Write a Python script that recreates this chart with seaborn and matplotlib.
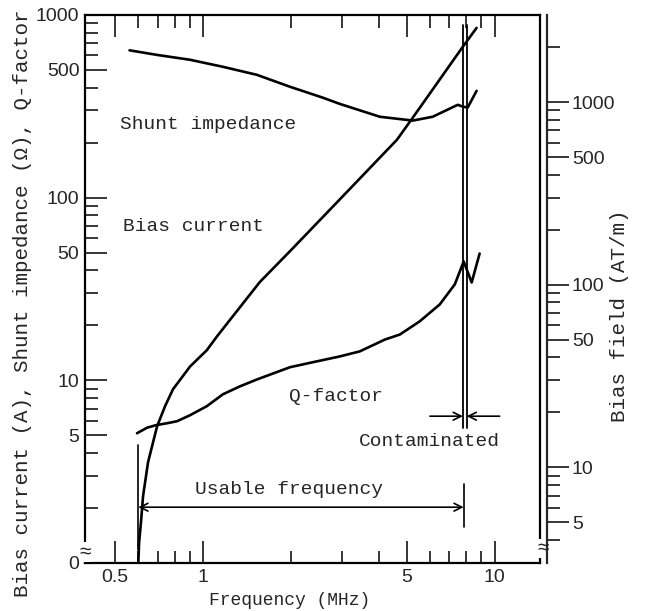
import numpy as np
import pandas as pd
import matplotlib
matplotlib.use('Agg')
import matplotlib.pyplot as plt
import matplotlib.transforms as mtrans
import seaborn as sns

# === Dữ liệu (MHz, giá trị trục trái) ===
shunt_freq = [0.56, 0.696, 0.903, 1.17, 1.53, 1.99, 2.58, 2.94, 4.04, 5.24, 6.13, 7.47, 7.77, 8.08, 8.67]
shunt_val = [640, 604, 568, 520, 470, 404, 352, 326, 277, 264, 277, 322, 315, 311, 384]

bias_freq = [0.60, 0.604, 0.613, 0.623, 0.648, 0.696, 0.741, 0.789, 0.903, 1.03, 1.117,
             1.566, 1.99, 2.94, 4.62, 5.24, 7.77, 8.67]
bias_val = [1.0, 1.30, 1.68, 2.32, 3.56, 5.6, 7.21, 8.93, 11.9, 14.6, 17.4,
            34.5, 51.0, 97.5, 207, 274, 668, 849]

q_freq = [0.594, 0.643, 0.69, 0.753, 0.815, 0.903, 1.03, 1.17, 1.34, 1.53, 1.74, 1.99,
          2.46, 2.94, 3.45, 4.20, 4.73, 5.53, 6.48, 7.30, 7.83, 8.34, 8.88]
q_val = [5.13, 5.50, 5.68, 5.82, 5.97, 6.44, 7.21, 8.38, 9.27, 10.1, 10.9, 11.8,
         12.7, 13.5, 14.4, 16.7, 17.8, 21.0, 26.0, 33.5, 44.7, 34.3, 49.4]

x_major = [0.5, 1, 5, 10]
x_major_labels = ['0.5', '1', '5', '10']
x_minor = [0.6, 0.7, 0.8, 0.9, 2, 3, 4, 6, 7, 8, 9]
y_major = [1, 5, 10, 50, 100, 500, 1000]
y_major_labels = ['0', '5', '10', '50', '100', '500', '1000']
y_minor = [2, 3, 4, 6, 7, 8, 9, 20, 30, 40, 60, 70, 80, 90, 200, 300, 400, 600, 700, 800, 900]
field_major = [5, 10, 50, 100, 500, 1000]
field_minor = [4, 6, 7, 8, 9, 20, 30, 40, 60, 70, 80, 90, 200, 300, 400, 600, 700, 800, 900, 2000]
field_per_amp = 3.0

usable_lo, usable_hi = 0.60, 7.83
contam_lo, contam_hi = 7.78, 8.02

sns.set_style('white')
plt.rcParams['font.family'] = ['Liberation Mono', 'DejaVu Sans Mono', 'DejaVu Sans']
mono = ['Liberation Mono', 'DejaVu Sans Mono', 'DejaVu Sans']
sans = ['Liberation Sans', 'DejaVu Sans']

fig = plt.figure(figsize=(6.49, 6.11), dpi=100)
ax = fig.add_axes([0.131, 0.0786, 0.701, 0.897])

curves = pd.concat([
    pd.DataFrame({'f': shunt_freq, 'v': shunt_val, 'c': 'shunt'}),
    pd.DataFrame({'f': bias_freq, 'v': bias_val, 'c': 'bias'}),
    pd.DataFrame({'f': q_freq, 'v': q_val, 'c': 'q'}),
])
for name, g in curves.groupby('c'):
    sns.lineplot(data=g, x='f', y='v', ax=ax, color='black', lw=1.9,
                 sort=False, estimator=None)

ax.set_xscale('log')
ax.set_yscale('log')
ax.set_xlim(0.394, 14.3)
ax.set_ylim(1, 1000)

tick_fs = 14
ax.set_xticks(x_major)
ax.set_xticklabels(x_major_labels, family=sans, fontsize=tick_fs)
ax.set_xticks(x_minor, minor=True)
ax.set_yticks(y_major)
ax.set_yticklabels(y_major_labels, family=sans, fontsize=tick_fs)
ax.set_yticks(y_minor, minor=True)
ax.xaxis.set_minor_formatter(matplotlib.ticker.NullFormatter())
ax.yaxis.set_minor_formatter(matplotlib.ticker.NullFormatter())
ax.tick_params(which='major', direction='in', length=16, width=1.3,
               top=True, right=True, bottom=True, left=True, pad=4)
ax.tick_params(which='minor', direction='in', length=9, width=1.3,
               top=True, right=True, bottom=True, left=True)
for s in ax.spines.values():
    s.set_linewidth(1.6)
    s.set_color('black')
ax.set_xlabel('')
ax.set_ylabel('')

# trục phải: Bias field
ax2 = ax.twinx()
ax2.set_yscale('log')
ax2.set_ylim(1 * field_per_amp, 1000 * field_per_amp)
ax2.spines['right'].set_position(('outward', 5))
for k in ['left', 'top', 'bottom']:
    ax2.spines[k].set_visible(False)
ax2.spines['right'].set_linewidth(1.6)
ax2.set_yticks(field_major)
ax2.set_yticklabels([str(v) for v in field_major], family=sans, fontsize=tick_fs)
ax2.set_yticks(field_minor, minor=True)
ax2.yaxis.set_minor_formatter(matplotlib.ticker.NullFormatter())
ax2.tick_params(which='major', direction='out', length=16, width=1.3, pad=2)
ax2.tick_params(which='minor', direction='out', length=9, width=1.3)

# vùng tần số dùng được và vùng nhiễu
ax.plot([usable_lo, usable_lo], [1.2, 4.4], color='black', lw=1.2)
ax.plot([usable_hi, usable_hi], [1.57, 2.7], color='black', lw=1.2)
ax.annotate('', xy=(usable_lo, 2.02), xytext=(usable_hi, 2.02),
            arrowprops=dict(arrowstyle='<->', lw=1.2, color='black',
                            mutation_scale=14, shrinkA=0, shrinkB=0))
for xc in [contam_lo, contam_hi]:
    ax.plot([xc, xc], [5.5, 880], color='black', lw=1.3)
ax.annotate('', xy=(contam_lo, 6.36), xytext=(6.0, 6.36),
            arrowprops=dict(arrowstyle='->', lw=1.2, color='black',
                            mutation_scale=14, shrinkA=0, shrinkB=0))
ax.annotate('', xy=(contam_hi, 6.36), xytext=(10.4, 6.36),
            arrowprops=dict(arrowstyle='->', lw=1.2, color='black',
                            mutation_scale=14, shrinkA=0, shrinkB=0))

fs = 14
ax.text(0.52, 251, 'Shunt impedance', fontsize=fs, va='center', family=mono)
ax.text(0.532, 69.5, 'Bias current', fontsize=fs, va='center', family=mono)
ax.text(1.97, 8.18, 'Q-factor', fontsize=fs, va='center', family=mono)
ax.text(10.4, 4.64, 'Contaminated', fontsize=fs, va='center', ha='right', family=mono)
ax.text(0.94, 2.54, 'Usable frequency', fontsize=fs, va='center', family=mono)

# ký hiệu ngắt trục
trans_l = mtrans.blended_transform_factory(ax.transAxes, ax.transData)
ax.text(0, 1.15, '\u2248', transform=trans_l, ha='center', va='center',
        fontsize=15, family=sans,
        bbox=dict(facecolor='white', edgecolor='none', pad=0.2), zorder=10,
        clip_on=False)
ax.text(1.008, 1.2, '\u2248', transform=trans_l, ha='center', va='center',
        fontsize=15, family=sans,
        bbox=dict(facecolor='white', edgecolor='none', pad=0.2), zorder=10,
        clip_on=False)

fig.text(0.034, 0.504, 'Bias current (A), Shunt impedance (\u03a9), Q-factor',
         rotation=90, ha='center', va='center', fontsize=15, family=mono)
fig.text(0.955, 0.484, 'Bias field (AT/m)', rotation=90, ha='center',
         va='center', fontsize=15, family=mono)
fig.text(0.447, 0.018, 'Frequency (MHz)', ha='center', va='center',
         fontsize=13, family=mono)

fig.savefig('out.png', dpi=100)
